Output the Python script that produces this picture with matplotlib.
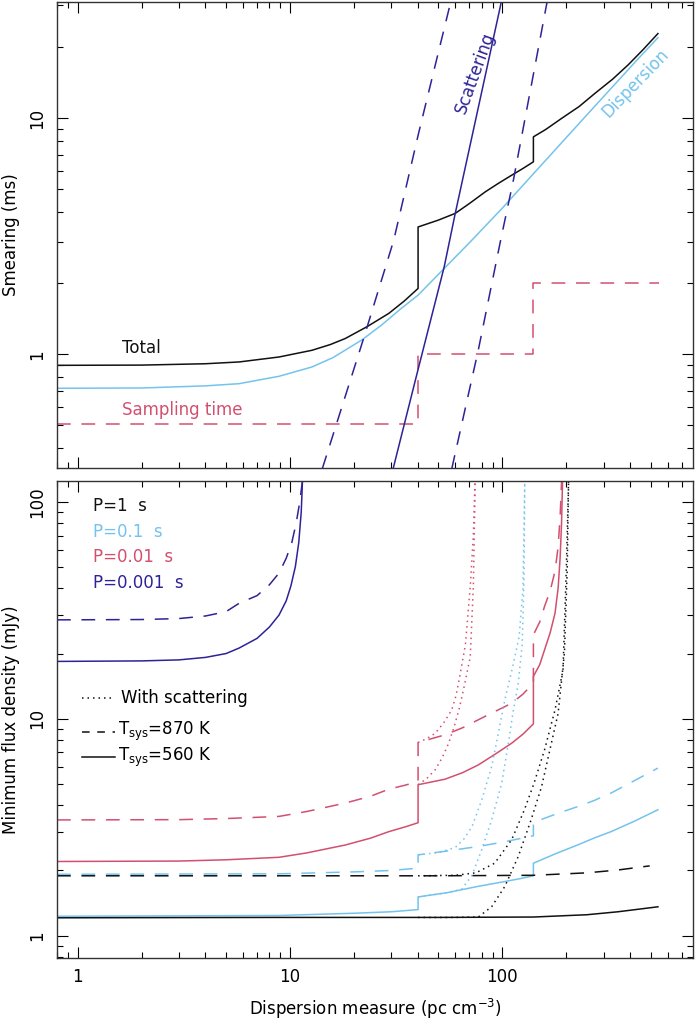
import matplotlib
matplotlib.use('Agg')
import matplotlib.pyplot as plt
from matplotlib.ticker import LogLocator, FixedLocator, NullFormatter, FixedFormatter

# colours
black = '#111111'
cyan = '#74c3ec'
red = '#d2506f'
navy = '#2d2396'

# ---------------- top panel: smearing (ms) vs DM ----------------
total_dm = [0.8, 2, 4, 5.76, 8.88, 12.7, 15.5, 18.2, 23.1, 29.2, 34.5, 40.1, 40.1, 50, 60, 70, 83,
            96, 110.6, 125, 140, 140, 160, 190, 230, 272, 330, 391, 460, 540]
total_ms = [0.898, 0.90, 0.912, 0.928, 0.974, 1.04, 1.10, 1.166, 1.31, 1.49, 1.68, 1.90, 3.46, 3.70,
            3.95, 4.35, 4.87, 5.30, 5.73, 6.12, 6.53, 8.33, 8.95, 9.97, 11.2, 12.7, 14.6, 16.8, 19.5, 22.8]

disp_dm = [0.8, 2, 4, 5.76, 8.88, 12.7, 16, 21.8, 27, 33, 40.1, 53, 70.8, 100, 158, 230, 326, 430, 540]
disp_ms = [0.718, 0.72, 0.735, 0.751, 0.807, 0.884, 0.97, 1.15, 1.33, 1.55, 1.78, 2.30, 3.0, 4.16,
           6.55, 9.5, 13.4, 17.6, 21.9]

samp_dm = [0.8, 40.1, 40.1, 140.0, 140.0, 547.0]
samp_ms = [0.505, 0.505, 1.0, 1.0, 2.0, 2.0]

scat_dm = [30.6, 40.0, 53.2, 60.0, 99.3]
scat_ms = [0.328, 0.855, 2.34, 3.95, 31.6]
scat_lo_dm = [14.2, 22.3, 30.8, 40.3, 57.4]
scat_lo_ms = [0.328, 1.18, 3.04, 8.61, 31.6]
scat_hi_dm = [57.8, 77.0, 98.5, 112.7, 163.0]
scat_hi_ms = [0.328, 1.04, 3.09, 5.46, 31.6]

# ---------------- bottom panel: minimum flux density (mJy) vs DM ----------------
# P = 0.001 s
p3_dm = [0.8, 2, 3, 4, 5, 5.76, 7, 8, 8.88, 9.6, 10.1, 10.6, 11.0, 11.3, 11.45]
p3_560 = [18.4, 18.5, 18.7, 19.2, 20.0, 21.2, 23.5, 26.5, 30.1, 35, 41, 50.3, 65, 90, 125]
p3d_dm = [0.8, 2, 3, 4, 5, 5.76, 7, 8, 8.88, 9.6, 10.2, 10.7, 11.1, 11.45]
p3_870 = [28.6, 28.7, 29.0, 29.8, 31.2, 34.1, 37, 41.5, 47, 55, 65, 80, 99, 125]

# P = 0.01 s
p2_dm = [0.8, 3, 5, 8.88, 12, 18.2, 24, 29.2, 35, 40.1, 40.1, 53.7, 65, 77, 92, 110.6, 125, 140,
         140, 150, 158, 168, 177, 183, 187, 190, 192]
p2_560 = [2.20, 2.21, 2.24, 2.30, 2.41, 2.62, 2.82, 3.02, 3.18, 3.32, 4.97, 5.27, 5.65, 6.13, 6.85,
          7.72, 8.5, 9.48, 15.7, 17.8, 20.8, 25.0, 30.7, 40, 55, 80, 125]
p2_870 = [3.42, 3.43, 3.47, 3.55, 3.74, 4.09, 4.40, 4.74, 4.95, 5.14, 7.78, 8.44, 9.1, 9.9, 10.8,
          11.8, 13.0, 14.6, 24.4, 28, 33, 39, 48, 62, 85, 124, 190]
# with scattering
p2s_dm = [40.1, 44, 48.3, 52, 55.8, 59.5, 63.0, 66.5, 70.6, 73.0, 74.5]
p2s_560 = [4.97, 5.3, 5.83, 6.6, 7.7, 9.3, 11.4, 14.5, 19.3, 40.6, 125.0]
p2sd_dm = [40.1, 44, 48.3, 53, 57.8, 60.5, 63.0, 67, 70.6, 73.0, 74.3]
p2s_870 = [7.78, 8.1, 8.58, 9.6, 11.0, 12.8, 15.7, 22, 40.6, 70, 125.0]

# P = 0.1 s
p1_dm = [0.8, 8.88, 20, 30, 40.1, 40.1, 55, 77, 100, 120, 140, 140, 180, 228, 270, 325, 420, 540]
p1_560 = [1.23, 1.24, 1.27, 1.29, 1.32, 1.51, 1.58, 1.69, 1.77, 1.83, 1.89, 2.16, 2.40, 2.63, 2.82,
          3.02, 3.38, 3.81]
p1_870 = [1.92, 1.93, 1.97, 2.0, 2.05, 2.36, 2.46, 2.58, 2.70, 2.80, 2.89, 3.33, 3.65, 3.95, 4.2,
          4.55, 5.2, 5.93]
# with scattering
p1s_dm = [40.1, 55, 64.3, 72, 80, 89, 99.3, 106.7, 112.7, 118.8, 124, 126.5, 127.5]
p1s_560 = [1.51, 1.58, 1.64, 1.9, 2.5, 3.42, 5.05, 7.7, 11.0, 14.6, 22, 45, 125]
p1sd_dm = [40.1, 50, 60, 66, 72, 80, 89, 95.8, 102.8, 112, 120, 125, 127.5]
p1s_870 = [2.36, 2.42, 2.55, 2.8, 3.19, 4.23, 6.02, 8.6, 12.3, 17.5, 24, 40, 125]

# P = 1 s
p0_dm = [0.8, 8.88, 50, 140, 250, 350, 450, 540]
p0_560 = [1.21, 1.215, 1.215, 1.22, 1.25, 1.29, 1.33, 1.36]
p0d_dm = [0.8, 8.88, 50, 140, 250, 350, 494]
p0_870 = [1.89, 1.89, 1.89, 1.90, 1.95, 2.01, 2.10]
# with scattering
p0s_dm = [40.1, 60, 77, 89, 102.8, 118.8, 136.5, 153, 170, 183, 196, 202, 205]
p0s_560 = [1.215, 1.215, 1.22, 1.36, 1.69, 2.32, 3.42, 4.87, 7.7, 10.6, 20.1, 48.7, 125]
p0sd_dm = [40.1, 60, 75, 92, 110.6, 127, 141, 158, 177, 193, 200, 205]
p0s_870 = [1.89, 1.9, 1.95, 2.16, 2.77, 3.81, 5.05, 7.2, 11.0, 16.8, 48.7, 125]

plt.rcParams['font.family'] = 'DejaVu Sans'
fig = plt.figure(figsize=(6.96, 10.25), dpi=100)
ax1 = fig.add_axes([0.0819, 0.5434, 0.9138, 0.4546])
ax2 = fig.add_axes([0.0819, 0.0654, 0.9138, 0.4654])

dash = (9, 7)
dot = (1, 2.6)
lw = 1.1

ax1.plot(total_dm, total_ms, color=black, lw=lw)
ax1.plot(disp_dm, disp_ms, color=cyan, lw=lw)
ax1.plot(samp_dm, samp_ms, color=red, lw=lw, dashes=dash)
ax1.plot(scat_dm, scat_ms, color=navy, lw=lw)
ax1.plot(scat_lo_dm, scat_lo_ms, color=navy, lw=lw, dashes=dash)
ax1.plot(scat_hi_dm, scat_hi_ms, color=navy, lw=lw, dashes=dash)

ax1.text(1.61, 1.01, 'Total', color=black, fontsize=12)
ax1.text(1.61, 0.551, 'Sampling time', color=red, fontsize=12)
ax1.text(74.7, 15.5, 'Scattering', color=navy, fontsize=12, rotation=70,
         ha='center', va='center')
ax1.text(421, 14.1, 'Dispersion', color=cyan, fontsize=12, rotation=46,
         ha='center', va='center')

# bottom
ax2.plot(p3_dm, p3_560, color=navy, lw=lw)
ax2.plot(p3d_dm, p3_870, color=navy, lw=lw, dashes=dash)
ax2.plot(p2_dm, p2_560, color=red, lw=lw)
ax2.plot(p2_dm, p2_870, color=red, lw=lw, dashes=dash)
ax2.plot(p2s_dm, p2s_560, color=red, lw=lw, dashes=dot)
ax2.plot(p2sd_dm, p2s_870, color=red, lw=lw, dashes=dot)
ax2.plot(p1_dm, p1_560, color=cyan, lw=lw)
ax2.plot(p1_dm, p1_870, color=cyan, lw=lw, dashes=dash)
ax2.plot(p1s_dm, p1s_560, color=cyan, lw=lw, dashes=dot)
ax2.plot(p1sd_dm, p1s_870, color=cyan, lw=lw, dashes=dot)
ax2.plot(p0_dm, p0_560, color=black, lw=lw)
ax2.plot(p0d_dm, p0_870, color=black, lw=lw, dashes=dash)
ax2.plot(p0s_dm, p0s_560, color=black, lw=lw, dashes=dot)
ax2.plot(p0sd_dm, p0s_870, color=black, lw=lw, dashes=dot)

for txt, col, yy in [('P=1  s', black, 0.937), ('P=0.1  s', cyan, 0.883),
                     ('P=0.01  s', red, 0.830), ('P=0.001  s', navy, 0.776)]:
    ax2.text(0.0566, yy, txt, color=col, fontsize=12, transform=ax2.transAxes)

ax2.plot([0.0393, 0.0912], [0.5457, 0.5457], color=black, lw=lw, dashes=dot,
         transform=ax2.transAxes)
ax2.plot([0.0393, 0.0912], [0.4744, 0.4744], color=black, lw=lw, dashes=(5, 5),
         transform=ax2.transAxes)
ax2.plot([0.0393, 0.0912], [0.4214, 0.4214], color=black, lw=lw,
         transform=ax2.transAxes)
ax2.text(0.1006, 0.5457, 'With scattering', fontsize=12, va='center', transform=ax2.transAxes)
ax2.text(0.0960, 0.4744, r'T$_{\rm sys}$=870 K', fontsize=12, va='center', transform=ax2.transAxes)
ax2.text(0.0960, 0.4214, r'T$_{\rm sys}$=560 K', fontsize=12, va='center', transform=ax2.transAxes)

for ax in (ax1, ax2):
    ax.set_xscale('log')
    ax.set_yscale('log')
    ax.set_xlim(0.8, 790)
    ax.tick_params(which='both', direction='in', top=True, right=True, labelsize=12)
    ax.tick_params(which='major', length=8, width=0.8)
    ax.tick_params(which='minor', length=4.5, width=0.8)
    ax.xaxis.set_major_locator(FixedLocator([1, 10, 100]))
    ax.xaxis.set_major_formatter(FixedFormatter(['1', '10', '100']))
    ax.xaxis.set_minor_locator(LogLocator(base=10, subs=range(2, 10), numticks=20))
    ax.xaxis.set_minor_formatter(NullFormatter())
    ax.yaxis.set_minor_locator(LogLocator(base=10, subs=range(2, 10), numticks=20))
    ax.yaxis.set_minor_formatter(NullFormatter())
    for sp in ax.spines.values():
        sp.set_linewidth(1.0)
        sp.set_color('#333333')

ax1.set_ylim(0.33, 31)
ax1.yaxis.set_major_locator(FixedLocator([1, 10]))
ax1.yaxis.set_major_formatter(FixedFormatter(['1', '10']))
ax1.tick_params(labelbottom=False)
ax2.set_ylim(0.79, 125)
ax2.yaxis.set_major_locator(FixedLocator([1, 10, 100]))
ax2.yaxis.set_major_formatter(FixedFormatter(['1', '10', '100']))

for ax in (ax1, ax2):
    for lab in ax.get_yticklabels():
        lab.set_rotation(90)
        lab.set_va('center')
    ax.tick_params(axis='y', pad=8)
    ax.tick_params(axis='x', pad=7)

ax1.set_ylabel('Smearing (ms)', fontsize=12, labelpad=6)
ax2.set_ylabel('Minimum flux density (mJy)', fontsize=12, labelpad=6)
ax2.set_xlabel(r'Dispersion measure (pc cm$^{-3}$)', fontsize=12, labelpad=8)

fig.savefig('out.png', dpi=100)
